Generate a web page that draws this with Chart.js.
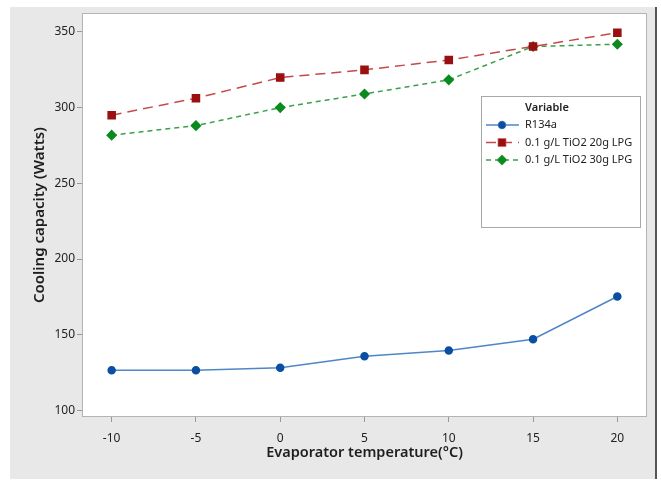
<!DOCTYPE html>
<html>
<head>
<meta charset="utf-8">
<script src="https://cdn.jsdelivr.net/npm/chart.js@4"></script>
<style>
  body { margin: 0; background: #fff; }
  #wrap { width: 661px; height: 485px; }
</style>
</head>
<body>
<div id="wrap"><canvas id="chart" width="661" height="485"></canvas></div>
<script>
const temps = [-10, -5, 0, 5, 10, 15, 20];
const r134a = [126.6, 126.6, 128.3, 135.8, 139.7, 147.1, 175.3];
const tio2_20g = [294.9, 306.1, 319.7, 324.8, 331.3, 340.2, 349.3];
const tio2_30g = [281.7, 288.0, 299.9, 308.9, 318.2, 340.2, 341.7];
const xTicks = [-10, -5, 0, 5, 10, 15, 20];
const yTicks = [100, 150, 200, 250, 300, 350];

const seriesNames = ['R134a', '0.1 g/L TiO2 20g LPG', '0.1 g/L TiO2 30g LPG'];

function toPoints(values) {
  return temps.map((t, i) => ({ x: t, y: values[i] }));
}

const FONT = '"Noto Sans", "Open Sans", sans-serif';

// gray panel, white plot frame, axis titles and the legend box
const framePlugin = {
  id: 'frame',
  beforeDraw(chart) {
    const { ctx, chartArea: a } = chart;
    ctx.save();
    ctx.fillStyle = '#fff';
    ctx.fillRect(0, 0, chart.width, chart.height);
    ctx.fillStyle = '#e8e8e8';
    ctx.fillRect(10, 7, 646, 472);
    ctx.fillStyle = '#555';
    ctx.fillRect(655, 7, 2, 472);
    ctx.fillStyle = '#fff';
    ctx.fillRect(a.left, a.top, a.right - a.left, a.bottom - a.top);
    ctx.strokeStyle = '#b4b4b4';
    ctx.lineWidth = 1;
    ctx.strokeRect(a.left + 0.5, a.top + 0.5, a.right - a.left - 1, a.bottom - a.top - 1);

    ctx.fillStyle = '#1e1e1e';
    ctx.font = '600 14.5px ' + FONT;
    ctx.textAlign = 'center';
    ctx.textBaseline = 'middle';
    ctx.fillText('Evaporator temperature(°C)', (a.left + a.right) / 2, 453);
    ctx.font = '600 15px ' + FONT;
    ctx.translate(40, (a.top + a.bottom) / 2);
    ctx.rotate(-Math.PI / 2);
    ctx.fillText('Cooling capacity (Watts)', 0, 0);
    ctx.restore();
  },
  afterDatasetsDraw(chart) {
    const { ctx } = chart;
    ctx.save();
    ctx.fillStyle = '#fff';
    ctx.fillRect(481, 96, 160, 132);
    ctx.strokeStyle = '#a8a8a8';
    ctx.lineWidth = 1;
    ctx.strokeRect(481.5, 96.5, 159, 131);
    ctx.fillStyle = '#222';
    ctx.textBaseline = 'middle';
    ctx.textAlign = 'left';
    ctx.font = '600 11px ' + FONT;
    ctx.fillText('Variable', 525, 108);
    ctx.font = '11px ' + FONT;
    const rows = [125, 142.5, 160];
    chart.data.datasets.forEach((ds, i) => {
      const y = rows[i];
      ctx.strokeStyle = ds.borderColor;
      ctx.lineWidth = ds.borderWidth;
      ctx.setLineDash(ds.borderDash || []);
      ctx.beginPath();
      ctx.moveTo(486, y);
      ctx.lineTo(519, y);
      ctx.stroke();
      ctx.setLineDash([]);
      Chart.helpers.drawPoint(ctx, {
        pointStyle: ds.pointStyle,
        radius: ds.pointRadius,
        borderWidth: 1
      }, 502, y);
      ctx.fillStyle = ds.pointBackgroundColor;
      ctx.strokeStyle = ds.pointBorderColor;
      ctx.fill();
      ctx.fillStyle = '#222';
      ctx.fillText(ds.label, 525, y);
    });
    ctx.restore();
  }
};

new Chart(document.getElementById('chart'), {
  type: 'line',
  data: {
    datasets: [
      {
        label: seriesNames[0],
        data: toPoints(r134a),
        borderColor: '#4f86c6',
        borderWidth: 1.5,
        pointStyle: 'circle',
        pointRadius: 3.5,
        pointBackgroundColor: '#0b4ea2',
        pointBorderColor: '#0b4ea2'
      },
      {
        label: seriesNames[1],
        data: toPoints(tio2_20g),
        borderColor: '#c44a4a',
        borderWidth: 1.5,
        borderDash: [10, 6],
        pointStyle: 'rect',
        pointRadius: 5,
        pointBackgroundColor: '#9a1010',
        pointBorderColor: '#9a1010'
      },
      {
        label: seriesNames[2],
        data: toPoints(tio2_30g),
        borderColor: '#3aa04a',
        borderWidth: 1.5,
        borderDash: [5, 4],
        pointStyle: 'rectRot',
        pointRadius: 4.5,
        pointBackgroundColor: '#0b8a1e',
        pointBorderColor: '#0b8a1e'
      }
    ]
  },
  options: {
    responsive: false,
    animation: false,
    layout: { padding: { left: 0, top: 13, right: 14, bottom: 0 } },
    plugins: { legend: { display: false }, tooltip: { enabled: false } },
    scales: {
      x: {
        type: 'linear',
        min: -11.76,
        max: 21.76,
        afterBuildTicks: axis => { axis.ticks = xTicks.map(v => ({ value: v })); },
        afterFit: axis => { axis.height = 68; },
        grid: { drawOnChartArea: false, color: 'transparent', tickColor: '#999', tickLength: 5 },
        border: { display: false },
        ticks: { color: '#222', padding: 9, font: { family: FONT, size: 12 } }
      },
      y: {
        min: 95.8,
        max: 362.3,
        afterBuildTicks: axis => { axis.ticks = yTicks.map(v => ({ value: v })); },
        afterFit: axis => { axis.width = 82; },
        grid: { drawOnChartArea: false, color: 'transparent', tickColor: '#999', tickLength: 5 },
        border: { display: false },
        ticks: { color: '#222', padding: 2, font: { family: FONT, size: 12 } }
      }
    }
  },
  plugins: [framePlugin]
});
</script>
</body>
</html>
